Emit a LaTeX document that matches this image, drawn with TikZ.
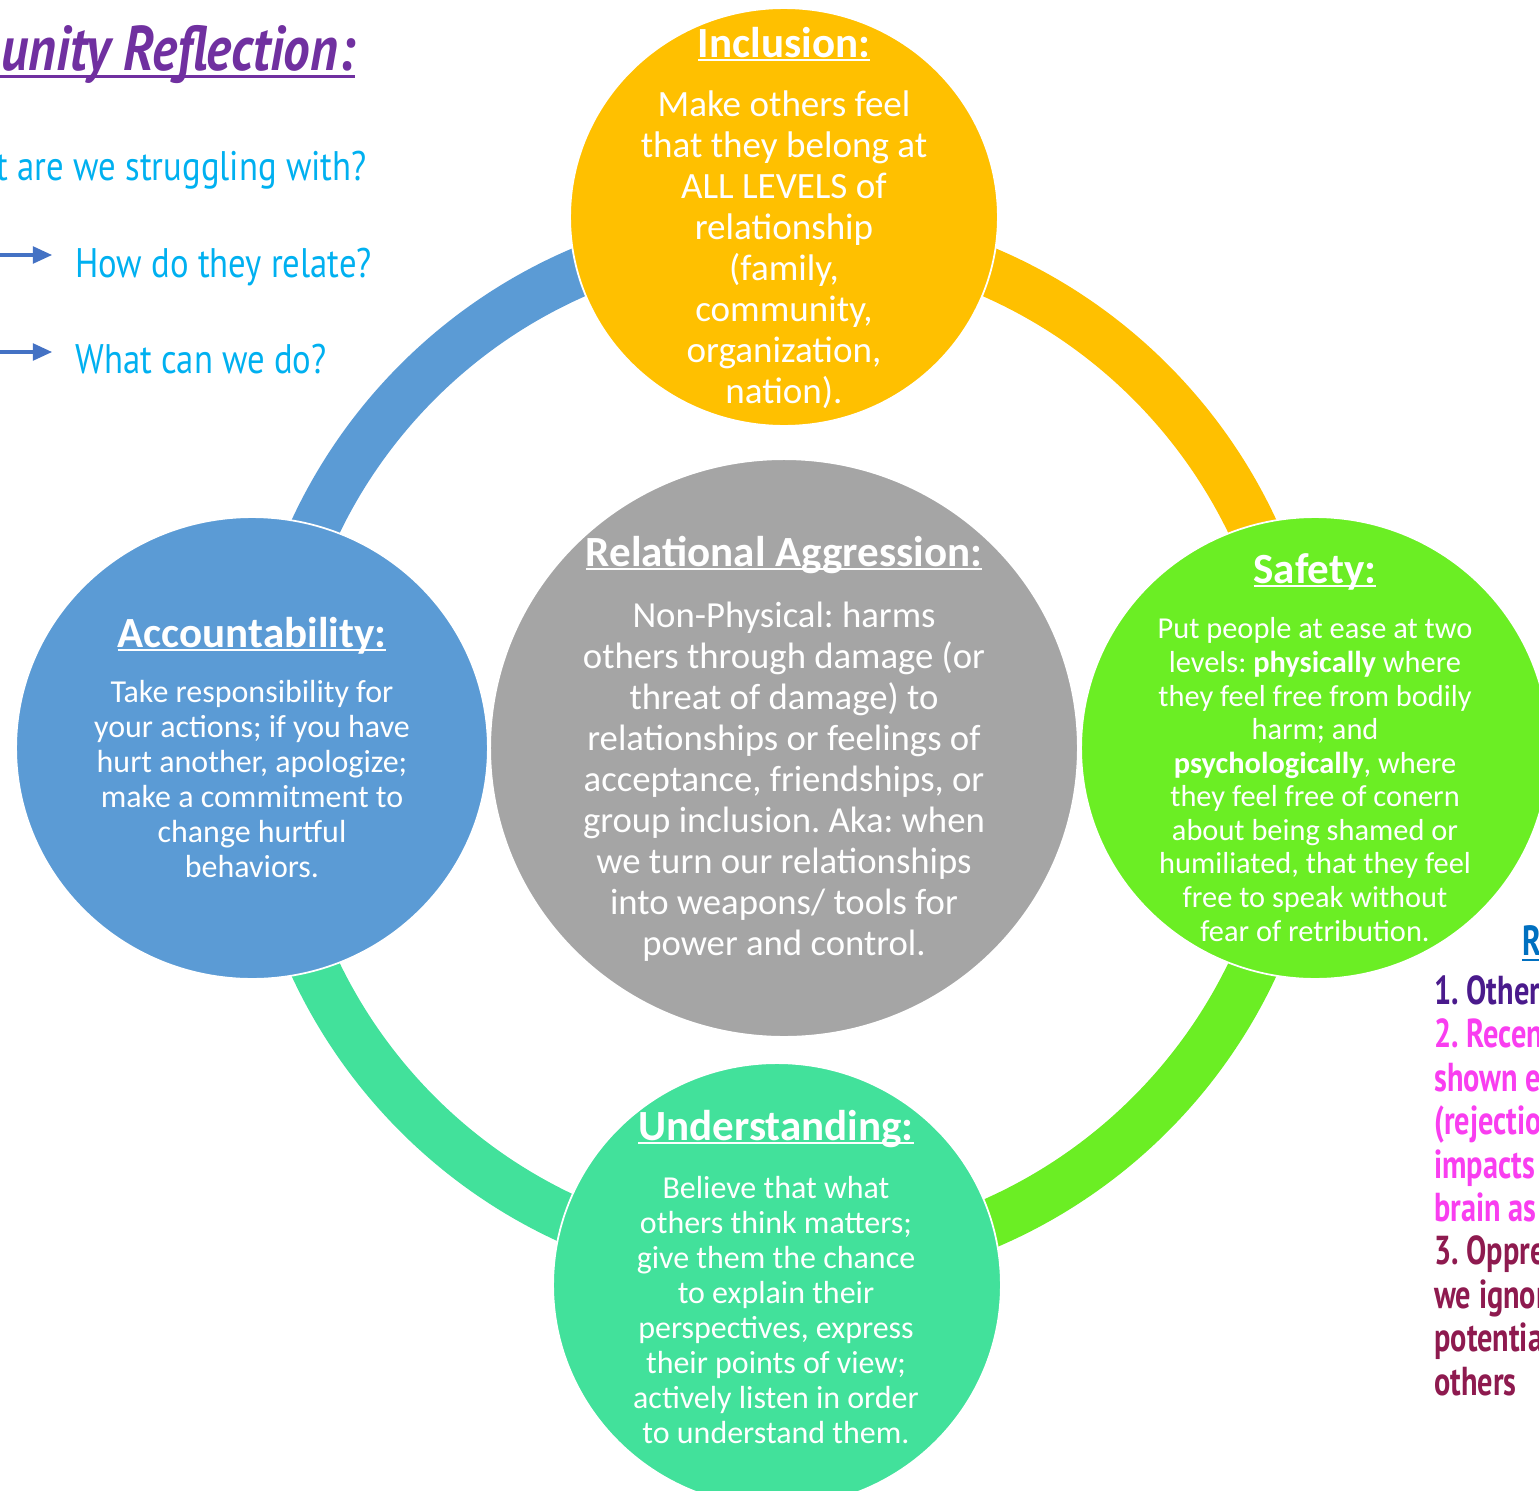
\documentclass[tikz,border=0pt]{standalone}
\usepackage{fontspec}
\setmainfont{Carlito}
\newfontfamily\narrowfont[FakeStretch=0.84]{PT Sans}
\newfontfamily\tightfont[FakeStretch=0.75]{PT Sans}
\usetikzlibrary{shapes.geometric,arrows.meta}
\frenchspacing

\definecolor{inclcol}{HTML}{FFC000}
\definecolor{acctcol}{HTML}{5B9BD5}
\definecolor{safecol}{HTML}{6BEE24}
\definecolor{undcol}{HTML}{42E19B}
\definecolor{aggrcol}{HTML}{A5A5A5}
\definecolor{titlecol}{HTML}{7030A0}
\definecolor{askcol}{HTML}{00B0F0}
\definecolor{arrowcol}{HTML}{4472C4}
\definecolor{headcol}{HTML}{0070C0}
\definecolor{onecol}{HTML}{4A1A8C}
\definecolor{twocol}{HTML}{F93EF0}
\definecolor{threecol}{HTML}{8E1A4F}

% underline: #1 gap below baseline, #2 rule thickness
\newcommand{\uln}[3]{\setbox0\hbox{#3}\rlap{\vrule width\wd0 height -#1 depth \dimexpr#1+#2\relax}\box0}
\newcommand{\heading}[1]{\uln{1.4pt}{1.1pt}{#1}}

\begin{document}
\begin{tikzpicture}[x=0.02cm,y=0.02cm,
	disc/.style 2 args={ellipse,draw=white,line width=1pt,inner sep=0pt,
		minimum width=#1*0.04cm,minimum height=#2*0.04cm},
	ring/.style={line width=0.98cm,line cap=butt},
	ttl/.style={text=white,inner sep=0pt,anchor=base,font=\bfseries\fontsize{24.5}{28}\selectfont},
	body/.style={text=white,inner sep=0pt,anchor=base,align=center},
	ask/.style={text=askcol,inner sep=0pt,font=\narrowfont\fontsize{23.5}{28}\selectfont},
	qarrow/.style={draw=arrowcol,line width=2pt,-{Triangle[length=11pt,width=9.5pt]},shorten >=13pt}]
	\useasboundingbox (0,0) rectangle (1539,-1491);
	\clip (0,0) rectangle (1539,-1491);
	%%%%%%%%%%%%%%%%%%%%%%%%%%%%%%%%%
	\coordinate (hub) at (784,-748);
	\draw[ring,inclcol] (hub) ++(0:518) arc[start angle=0,end angle=90,radius=518];
	\draw[ring,acctcol] (hub) ++(90:518) arc[start angle=90,end angle=180,radius=518];
	\draw[ring,undcol] (hub) ++(180:518) arc[start angle=180,end angle=270,radius=518];
	\draw[ring,safecol] (hub) ++(270:518) arc[start angle=270,end angle=360,radius=518];
	%%%%%%%%%%%%%%%%%%%%%%%%%%%%%%%%%
	\node[disc={214}{209},fill=inclcol] (incl) at (784,-217) {};
	\node[disc={236}{231},fill=acctcol] (acct) at (252,-748) {};
	\node[disc={234}{231},fill=safecol] (safe) at (1315,-748) {};
	\node[disc={224}{222},fill=undcol] (und) at (777,-1285) {};
	\node[disc={294}{289},fill=aggrcol] (aggr) at (784,-748) {};
	%%%%%%%%%%%%%%%%%%%%%%%%%%%%%%%%%
	\node[ttl] (incltitle) at (784,-57) {\heading{Inclusion:}};
	\node[body,font=\fontsize{21.1}{23.3}\selectfont] (incltext) at (784,-403)
		{Make others feel\\that they belong at\\ALL LEVELS of\\relationship\\(family,\\community,\\organization,\\nation).};
	\node[ttl] (aggrtitle) at (784,-566) {\heading{Relational Aggression:}};
	\node[body,font=\fontsize{20.9}{23.3}\selectfont] (aggrtext) at (784,-955)
		{Non-Physical: harms\\others through damage (or\\threat of damage) to\\relationships or feelings of\\acceptance, friendships, or\\group inclusion. Aka: when\\we turn our relationships\\into weapons/ tools for\\power and control.};
	\node[ttl] (accttitle) at (252,-647) {\heading{Accountability:}};
	\node[body,font=\fontsize{18.2}{19.85}\selectfont] (accttext) at (252,-877)
		{Take responsibility for\\your actions; if you have\\hurt another, apologize;\\make a commitment to\\change hurtful\\behaviors.};
	\node[ttl] (safetitle) at (1315,-583) {\heading{Safety:}};
	\node[body,font=\fontsize{17.3}{19.1}\selectfont] (safetext) at (1315,-941)
		{Put people at ease at two\\levels: \textbf{physically} where\\they feel free from bodily\\harm; and\\\textbf{psychologically}, where\\they feel free of conern\\about being shamed or\\humiliated, that they feel\\free to speak without\\fear of retribution.};
	\node[ttl] (undtitle) at (776,-1140) {\heading{Understanding:}};
	\node[body,font=\fontsize{18.2}{19.9}\selectfont] (undtext) at (776,-1443)
		{Believe that what\\others think matters;\\give them the chance\\to explain their\\perspectives, express\\their points of view;\\actively listen in order\\to understand them.};
	%%%%%%%%%%%%%%%%%%%%%%%%%%%%%%%%%
	\node[anchor=base east,inner sep=0pt,text=titlecol,font=\narrowfont\bfseries\itshape\fontsize{36}{40}\selectfont] (reflect) at (355,-70)
		{\uln{3pt}{1.3pt}{Community Reflection:}};
	\node[ask,anchor=base east] (struggle) at (367,-180) {What are we struggling with?};
	\node[ask,anchor=base west] (relate) at (75,-277) {How do they relate?};
	\node[ask,anchor=base west] (cando) at (75,-373) {What can we do?};
	\coordinate (tailA) at (-30,-255);
	\coordinate (tailB) at (-30,-352);
	\draw[qarrow] (tailA) -- (tailA -| relate.west);
	\draw[qarrow] (tailB) -- (tailB -| cando.west);
	%%%%%%%%%%%%%%%%%%%%%%%%%%%%%%%%%
	\node[anchor=base west,inner sep=0pt,text=headcol,font=\tightfont\bfseries\fontsize{24}{28}\selectfont] (rhead) at (1522,-955)
		{\uln{2pt}{1.3pt}{R}};
	\node[anchor=base west,inner sep=0pt,align=left,font=\tightfont\bfseries\fontsize{23}{24.7}\selectfont] (rlist) at (1434,-1395)
		{\textcolor{onecol}{1. Other}\\\textcolor{twocol}{2. Recen}\\\textcolor{twocol}{shown e}\\\textcolor{twocol}{(rejectio}\\\textcolor{twocol}{impacts}\\\textcolor{twocol}{brain as}\\\textcolor{threecol}{3. Oppre}\\\textcolor{threecol}{we ignor}\\\textcolor{threecol}{potentia}\\\textcolor{threecol}{others}};
\end{tikzpicture}
\end{document}
